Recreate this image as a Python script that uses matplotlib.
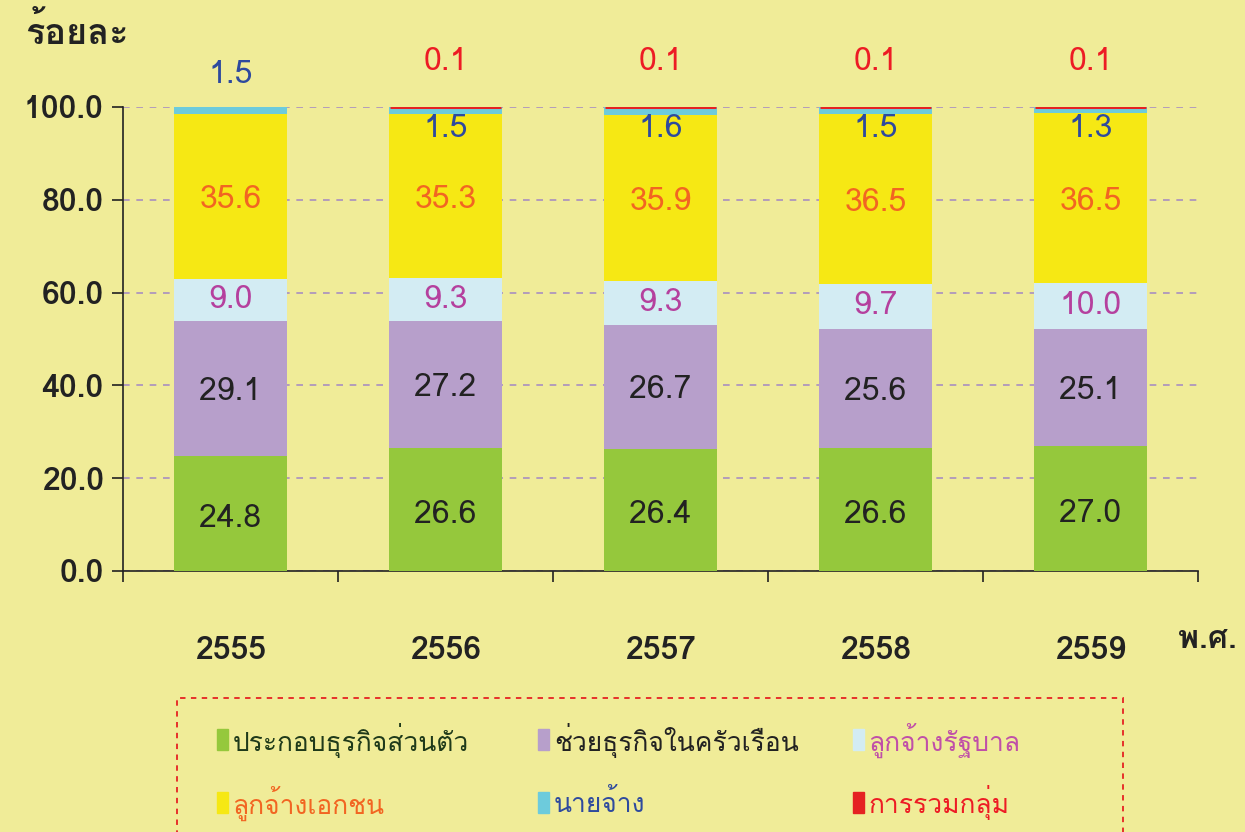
import numpy as np
import matplotlib
matplotlib.use("Agg")
import matplotlib.pyplot as plt
from matplotlib import font_manager as fm
from matplotlib.ft2font import FT2Font
from matplotlib.patches import Rectangle

# ---- donnees ----
years = ["2555", "2556", "2557", "2558", "2559"]
own_account = [24.8, 26.6, 26.4, 26.6, 27.0]
family_work = [29.1, 27.2, 26.7, 25.6, 25.1]
government = [9.0, 9.3, 9.3, 9.7, 10.0]
private = [35.6, 35.3, 35.9, 36.5, 36.5]
employer = [1.5, 1.5, 1.6, 1.5, 1.3]
group = [0.0, 0.1, 0.1, 0.1, 0.1]

series_names = ["ประกอบธุรกิจส่วนตัว", "ช่วยธุรกิจในครัวเรือน", "ลูกจ้างรัฐบาล",
                "ลูกจ้างเอกชน", "นายจ้าง", "การรวมกลุ่ม"]

# ---- police thai ----
def find_thai_font():
    found = []
    for f in fm.fontManager.ttflist:
        try:
            cmap = FT2Font(f.fname).get_charmap()
        except Exception:
            continue
        if 0x0E01 in cmap and 0x0E2D in cmap and 0x0030 in cmap:
            found.append(f.name)
    return found

thai = find_thai_font()
families = ([thai[0]] if thai else []) + ["DejaVu Sans"]
plt.rcParams["font.family"] = families

bg = "#f0ec98"
c_green = "#95c83c"
c_purple = "#b79fcb"
c_lblue = "#d3ecf3"
c_yellow = "#f6e814"
c_cyan = "#6dcbdc"
c_red = "#e52222"

fig = plt.figure(figsize=(12.45, 8.32), dpi=100, facecolor=bg)
ax = fig.add_axes([123 / 1245, 1 - 571 / 832, 1075 / 1245, 464 / 832])
ax.set_facecolor(bg)

x = np.arange(len(years))
w = 0.53
stack = [(own_account, c_green), (family_work, c_purple), (government, c_lblue),
         (private, c_yellow), (employer, c_cyan), (group, c_red)]
bottom = np.zeros(len(years))
bottoms = []
for vals, col in stack:
    vals = np.array(vals)
    if col == c_red:
        # segment tres fin : on l'epaissit avec un contour
        m = vals > 0
        ax.bar(x[m], vals[m], w - 0.01, bottom=bottom[m], color=col,
               edgecolor=col, linewidth=2.2, zorder=3)
    else:
        ax.bar(x, vals, w, bottom=bottom, color=col, zorder=3)
    bottoms.append(bottom.copy())
    bottom = bottom + vals

fs = 23
# etiquettes dans les segments
for i in range(len(years)):
    ax.text(x[i], bottoms[0][i] + own_account[i] / 2 - 1.2, f"{own_account[i]:.1f}",
            ha="center", va="center", fontsize=fs, color="#222222", zorder=4)
    ax.text(x[i], bottoms[1][i] + family_work[i] / 2 - 0.8, f"{family_work[i]:.1f}",
            ha="center", va="center", fontsize=fs, color="#222222", zorder=4)
    ax.text(x[i], bottoms[2][i] + government[i] / 2, f"{government[i]:.1f}",
            ha="center", va="center", fontsize=fs, color="#b5409e", zorder=4)
    ax.text(x[i], bottoms[3][i] + private[i] / 2 - 0.8, f"{private[i]:.1f}",
            ha="center", va="center", fontsize=fs, color="#f26522", zorder=4)
    if group[i] > 0:
        ax.text(x[i], 95.2, f"{employer[i]:.1f}", ha="center", va="center",
                fontsize=fs, color="#2e4a9e", zorder=4)
        ax.text(x[i], 109.8, f"{group[i]:.1f}", ha="center", va="center",
                fontsize=fs, color="#ed1c24", clip_on=False)
    else:
        ax.text(x[i], 106.8, f"{employer[i]:.1f}", ha="center", va="center",
                fontsize=fs, color="#2e4a9e", clip_on=False)

ax.set_xlim(-0.5, len(years) - 0.5)
ax.set_ylim(0, 100)
ax.set_yticks(np.arange(0, 101, 20))
ax.set_yticklabels([f"{v:.1f}" for v in np.arange(0, 101, 20)], fontsize=fs,
                   color="#222222", fontweight="bold")
ax.yaxis.grid(True, linestyle=(0, (4, 4)), color="#a98fc0", linewidth=1.2, zorder=1)
ax.set_xticks(x)
ax.set_xticklabels(years, fontsize=fs, color="#222222", fontweight="bold")
ax.tick_params(axis="x", length=0, pad=47)
ax.set_xticks(np.arange(-0.5, len(years)), minor=True)
ax.tick_params(axis="x", which="minor", length=8, color="#222222", width=1.2)
ax.tick_params(axis="y", length=8, color="#222222", width=1.2, pad=6)
for s in ["top", "right"]:
    ax.spines[s].set_visible(False)
ax.spines["left"].set_color("#222222")
ax.spines["bottom"].set_color("#222222")
ax.spines["left"].set_linewidth(1.2)
ax.spines["bottom"].set_linewidth(1.2)

fig.text(25 / 1245, 1 - 32 / 832, "ร้อยละ", fontsize=26, color="#222222",
         fontweight="bold", ha="left", va="center")
fig.text(1237 / 1245, 1 - 640 / 832, "พ.ศ.", fontsize=23, color="#222222",
         fontweight="bold", ha="right", va="center")

# ---- legende ----
fig.patches.append(Rectangle((177 / 1245, -0.05), (1123 - 177) / 1245, (832 - 698) / 832 + 0.05,
                             transform=fig.transFigure, fill=False, edgecolor="#e52222",
                             linestyle=(0, (3, 3)), linewidth=1.3))
leg_colors = [c_green, c_purple, c_lblue, c_yellow, c_cyan, c_red]
leg_text = ["#1f3a1a", "#222222", "#c04fa8", "#f26522", "#2e4a9e", "#ed1c24"]
col_x = [217, 538, 853]
row_y = [740, 803]
for k, name in enumerate(series_names):
    cx = col_x[k % 3]
    cy = row_y[k // 3]
    fig.patches.append(Rectangle((cx / 1245, 1 - (cy + 10) / 832), 11 / 1245, 21 / 832,
                                 transform=fig.transFigure, color=leg_colors[k]))
    fig.text((cx + 16) / 1245, 1 - cy / 832, name, fontsize=19, color=leg_text[k],
             ha="left", va="center")

fig.savefig("out.png", dpi=100, facecolor=bg)
